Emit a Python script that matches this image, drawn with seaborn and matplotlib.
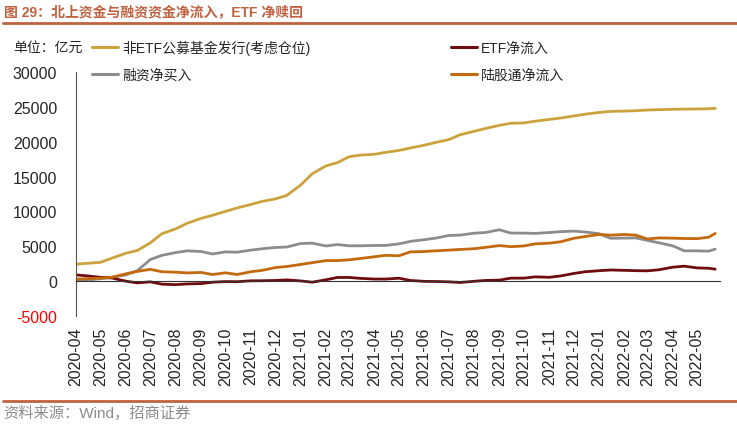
import numpy as np
import pandas as pd
import seaborn as sns
import matplotlib.pyplot as plt
import matplotlib.dates as mdates

sns.set_style('white')
plt.rcParams['font.family'] = ['Liberation Sans', 'Noto Sans CJK SC', 'DejaVu Sans']
plt.rcParams['axes.unicode_minus'] = False

# semi-monthly sample dates + last observation
dates = list(pd.date_range('2020-04-01', '2022-05-15', freq='SMS')) + [pd.Timestamp('2022-05-23')]

fund = [2440, 2560, 2700, 3300, 4000, 4400, 5500, 6800, 7500, 8300, 9000, 9450, 10000, 10500, 11000, 11450, 11800, 12300,
        13800, 15400, 16550, 17000, 17850, 18080, 18200, 18480, 18750, 19100, 19500, 19900, 20300, 21000, 21500, 21900,
        22350, 22650, 22700, 22950, 23200, 23400, 23700, 23950,
        24200, 24350, 24400, 24450, 24550, 24600, 24650, 24680, 24700, 24730, 24780]
margin = [50, 150, 350, 550, 900, 1500, 3100, 3700, 4100, 4350, 4250, 3900, 4200, 4150, 4450, 4650, 4830, 4900,
          5400, 5450, 5050, 5250, 5070, 5070, 5120, 5120, 5350, 5700, 5950, 6170, 6550, 6600, 6880, 6980, 7370, 6900,
          6890, 6850, 6980, 7100, 7180, 7050,
          6800, 6150, 6180, 6200, 5850, 5500, 5070, 4350, 4350, 4300, 4590]
etf = [900, 750, 550, 450, 0, -250, -100, -430, -500, -400, -350, -150, -60, -80, 50, 60, 100, 180,
       30, -150, 200, 530, 530, 400, 300, 300, 420, 100, -30, -50, -100, -190, -20, 100, 150, 430, 430, 620,
       550, 750, 1100, 1350,
       1500, 1600, 1550, 1500, 1480, 1630, 2000, 2150, 1900, 1850, 1720]
north = [290, 350, 430, 560, 1050, 1400, 1700, 1350, 1280, 1180, 1250, 950, 1200, 950, 1350, 1550, 1950, 2100,
         2400, 2650, 2950, 2950, 3060, 3250, 3500, 3700, 3640, 4200, 4250, 4350, 4450, 4550, 4650, 4850, 5100, 4950,
         5050, 5350, 5450, 5650, 6150, 6400,
         6700, 6600, 6700, 6600, 6050, 6200, 6170, 6120, 6100, 6300, 6840]

names = ['非ETF公募基金发行(考虑仓位)', '融资净买入', 'ETF净流入', '陆股通净流入']
colors = ['#CCA23C', '#8C8C8C', '#6E0C0E', '#C4690E']

df = pd.DataFrame({'date': dates * 4,
                   'value': fund + margin + etf + north,
                   'series': sum([[n] * len(dates) for n in names], [])})

fig = plt.figure(figsize=(7.37, 4.27), dpi=100)
ax = fig.add_axes([0.1031, 0.2576, 0.874, 0.5714])

sns.lineplot(data=df, x='date', y='value', hue='series', hue_order=names,
             palette=colors, linewidth=2, ax=ax, legend=False)

ax.set_ylim(-5000, 30000)
ax.set_yticks(np.arange(-5000, 30001, 5000))
ax.set_xlim(pd.Timestamp('2020-04-01'), pd.Timestamp('2022-05-29'))
ax.xaxis.set_major_locator(mdates.MonthLocator())
ax.xaxis.set_major_formatter(mdates.DateFormatter('%Y-%m'))
ax.set_xlabel('')
ax.set_ylabel('')

for s in ['top', 'right']:
    ax.spines[s].set_visible(False)
ax.spines['bottom'].set_position(('data', 0))
ax.spines['bottom'].set_color('#333333')
ax.spines['left'].set_color('#555555')
ax.tick_params(axis='x', direction='out', length=4, width=0.8, color='#333333', pad=29,
               labelsize=11.5, rotation=90)
ax.tick_params(axis='y', direction='out', length=3.6, width=0.8, color='#555555', pad=10, labelsize=11.5)
ax.get_yticklabels()[0].set_color('red')

handles = [plt.Line2D([], [], color=c, lw=2.2) for c in colors]
fig.legend(handles, names, ncol=2, loc='upper left', bbox_to_anchor=(0.1085, 0.934),
           frameon=False, fontsize=10, handlelength=1.85, handletextpad=0.3,
           labelspacing=0.95, columnspacing=10.1)

title_c = '#BF6241'
fig.text(0.005, 0.972, '图 29：北上资金与融资资金净流入，ETF 净赎回', color=title_c,
         fontsize=10, fontweight='bold', va='center', ha='left')
fig.add_artist(plt.Line2D([0.004, 1.0], [0.944, 0.944], color=title_c, lw=2))
fig.add_artist(plt.Line2D([0.004, 1.0], [0.058, 0.058], color=title_c, lw=2))
fig.text(0.018, 0.888, '单位：亿元', fontsize=10, va='center', ha='left')
fig.text(0.005, 0.031, '资料来源：Wind，招商证券', fontsize=11, color='#8C8C8C', va='center', ha='left')

fig.savefig('out.png', dpi=100)
